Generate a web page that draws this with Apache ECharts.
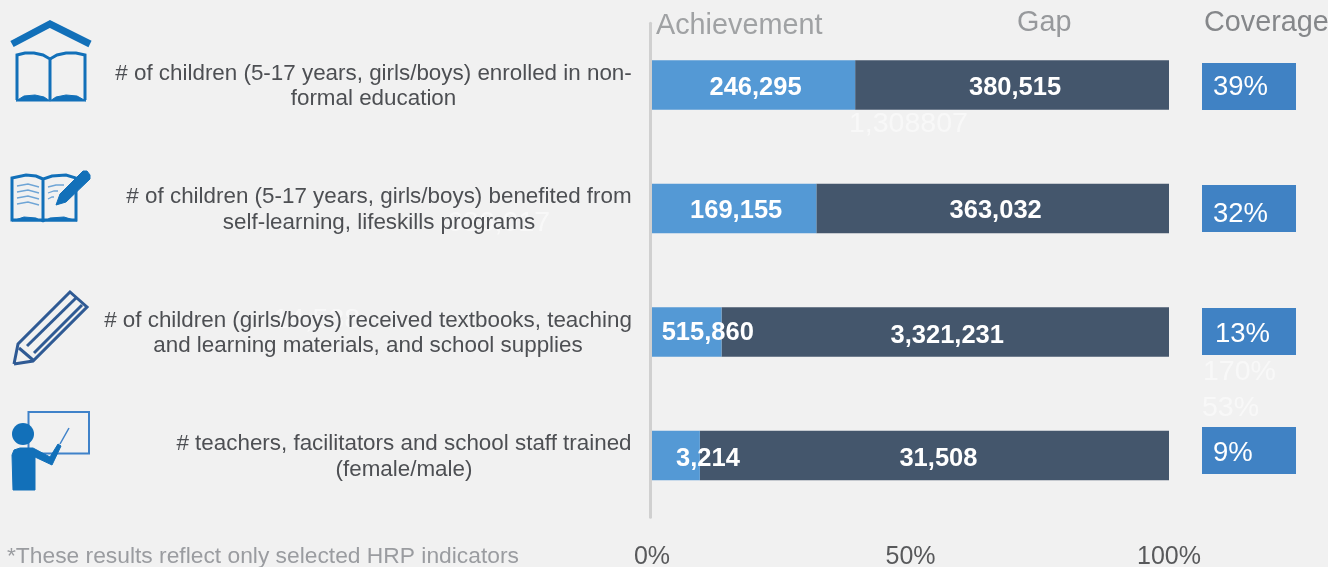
<!DOCTYPE html>
<html><head><meta charset="utf-8">
<style>html,body{margin:0;padding:0;background:#f1f1f1}#c{width:1328px;height:567px}</style>
<script src="https://cdn.jsdelivr.net/npm/echarts@6/dist/echarts.min.js"></script>
</head><body><div id="c"></div>
<script>
const categories = [
  '# of children (5-17 years, girls/boys) enrolled in non-\nformal education',
  '# of children (5-17 years, girls/boys) benefited from\nself-learning, lifeskills programs',
  '# of children (girls/boys) received textbooks, teaching\nand learning materials, and school supplies',
  '# teachers, facilitators and school staff trained\n(female/male)'
];
const achievement = [246295, 169155, 515860, 3214];
const gap = [380515, 363032, 3321231, 31508];
const coverage = [39, 32, 13, 9];
const axisTicks = [0, 50, 100];

const FONT = '"Liberation Sans", Arial, sans-serif';
const achLabelOffset = [[2,2.5],[2,2],[21,0.5],[32,3]];
const gapLabelOffset = [[3,2.5],[3,2],[2,3.5],[4,3]];
const boxOffset = [1.5,0,-0.5,-5];
const covLabelOffset = [[0,1],[0,6],[2,3],[0,3]];
const labelBlockWidth = [518,507,529,457];
const shareA = achievement.map((v,i)=>v/(v+gap[i])*100);
const shareG = gap.map((v,i)=>v/(v+achievement[i])*100);
const fmt = v => v.toLocaleString('en-US');

const barLabel = {show:true,color:'#fff',fontFamily:FONT,fontWeight:'bold',fontSize:25.5};
const icon = '#1270b9';
const rich = {};
labelBlockWidth.forEach((w,i)=>{rich['w'+i]={width:w,align:'center',color:'#4d4f53',fontFamily:FONT,fontSize:22.4,lineHeight:25.5};});
function heading(t,x,y,c){return {type:'text',silent:true,style:{text:t,x,y,fill:c,font:'28.8px '+FONT,textVerticalAlign:'middle'}};}
function ghost(t,x,y){return {type:'text',silent:true,z:-1,style:{text:t,x,y,fill:'#f8f8f8',font:'28.5px '+FONT,textVerticalAlign:'middle'}};}
function pl(points,o){return {type:'polyline',silent:true,shape:{points},style:Object.assign({fill:'none',stroke:icon,lineWidth:3},o||{})};}
function pg(points,o){return {type:'polygon',silent:true,shape:{points},style:Object.assign({fill:icon,stroke:icon,lineWidth:1},o||{})};}

const option = {
  animation:false,
  backgroundColor:'#f1f1f1',
  grid:[
    {left:652,width:517,top:23.25,height:494,outerBoundsMode:'none'},
    {left:1202,width:94,top:23.25,height:494,outerBoundsMode:'none'}
  ],
  xAxis:[
    {gridIndex:0,type:'value',min:0,max:100,interval:50,
     axisLine:{show:false},axisTick:{show:false},splitLine:{show:false},
     axisLabel:{formatter:v=>axisTicks.includes(v)?v+'%':'',color:'#58595b',fontFamily:FONT,fontSize:25,margin:27,hideOverlap:false}},
    {gridIndex:1,type:'value',min:0,max:1,show:false}
  ],
  yAxis:[
    {gridIndex:0,type:'category',inverse:true,data:categories,offset:1.5,
     axisLine:{show:true,onZero:false,lineStyle:{color:'#d0d0d0',width:3}},axisTick:{show:false},
     axisLabel:{align:'right',margin:18,interval:0,rich,padding:[3,0,0,0],
       formatter:(v,i)=>v.split('\n').map(s=>'{w'+i+'|'+s+'}').join('\n')}},
    {gridIndex:1,type:'category',inverse:true,data:categories,show:false}
  ],
  series:[
    {name:'Achievement',type:'bar',stack:'t',barWidth:49.5,xAxisIndex:0,yAxisIndex:0,
     itemStyle:{color:'#5499d5'},
     data:shareA.map((v,i)=>({value:v,label:Object.assign({},barLabel,{position:'inside',offset:achLabelOffset[i],formatter:fmt(achievement[i])})})),z:3},
    {name:'Gap',type:'bar',stack:'t',barWidth:49.5,xAxisIndex:0,yAxisIndex:0,
     itemStyle:{color:'#44566c'},
     data:shareG.map((v,i)=>({value:v,label:Object.assign({},barLabel,{position:'inside',offset:gapLabelOffset[i],formatter:fmt(gap[i])})})),z:2},
    {name:'Coverage',type:'scatter',xAxisIndex:1,yAxisIndex:1,symbol:'rect',symbolSize:[94,47],
     itemStyle:{color:'#4082c4',opacity:1},
     data:coverage.map((v,i)=>({value:[0.5,i],symbolOffset:[0,boxOffset[i]],
       label:{show:true,position:'insideLeft',distance:11,offset:covLabelOffset[i],color:'#fff',fontFamily:FONT,fontSize:27.5,formatter:v+'%'}}))}
  ],
  graphic:[
    heading('Achievement',656,26,'#a0a2a4'),
    heading('Gap',1017,23,'#97999c'),
    heading('Coverage',1204,23,'#85878a'),
    ghost('1,308807',849,124),
    ghost('636,017',447,223),
    ghost('14,538',273,320),
    ghost('170%',1203,372),
    ghost('53%',1202,408),
    {type:'text',silent:true,style:{text:'*These results reflect only selected HRP indicators',x:7,y:557,fill:'#9a9ca0',font:'22.8px '+FONT,textVerticalAlign:'middle'}},
    // Icon 1: roof and open book
    pl([[12,44],[50,24],[90,44]],{lineWidth:7}),
    pl([[50,100],[50,59],[43,55],[34,53],[25,53],[17,55],[17,100]]),
    pl([[50,59],[57,55],[66,53],[76,53],[85,55],[85,100]]),
    pg([[16,101],[24,96],[35,95],[44,97],[50,101],[56,97],[66,95],[77,96],[86,101]]),
    // Icon 2: open book with pen
    pl([[43,179],[36,176],[26,175],[12,178],[12,220],[76,220],[76,178],[66,175],[52,176],[43,179],[43,220]]),
    pg([[12,221],[24,217],[36,218],[43,222],[50,218],[64,217],[77,221]]),
    pl([[17,186],[28,184],[39,187]],{lineWidth:1.3,stroke:'#6fa5d6'}),
    pl([[17,192],[28,190],[39,193]],{lineWidth:1.3,stroke:'#6fa5d6'}),
    pl([[17,198],[28,196],[39,199]],{lineWidth:1.3,stroke:'#6fa5d6'}),
    pl([[17,204],[28,202],[39,205]],{lineWidth:1.3,stroke:'#6fa5d6'}),
    pl([[48,187],[56,185],[64,185]],{lineWidth:1.3,stroke:'#6fa5d6'}),
    pl([[48,193],[54,191],[58,191]],{lineWidth:1.3,stroke:'#6fa5d6'}),
    pl([[48,199],[52,197],[54,197]],{lineWidth:1.3,stroke:'#6fa5d6'}),
    pg([[56,205],[60,194],[83,171],[87,171],[90,175],[90,179],[66,202]]),
    // Icon 3: pencil
    pl([[14,364],[18,344],[70,292],[87,307],[33,361],[14,364]],{stroke:'#2f5a94'}),
    pl([[19,348],[33,360]],{stroke:'#2f5a94'}),
    pl([[27,346],[76,298]],{stroke:'#2f5a94'}),
    pl([[34,353],[82,305]],{stroke:'#2f5a94'}),
    // Icon 4: teacher at board
    {type:'rect',silent:true,shape:{x:28.5,y:412,width:60.5,height:41.5},style:{fill:'#f1f1f1',stroke:'#3f82c9',lineWidth:2}},
    {type:'circle',silent:true,shape:{cx:23,cy:434,r:11},style:{fill:icon}},
    pg([[12,455],[14,450],[20,448],[33,448],[50,457],[58,444],[61,446],[52,465],[35,457],[35,490],[13,490]]),
    pl([[60,444],[69,428]],{stroke:'#3f82c9',lineWidth:1.5})
  ]
};
echarts.init(document.getElementById('c'),null,{renderer:'canvas'}).setOption(option);
</script></body></html>
